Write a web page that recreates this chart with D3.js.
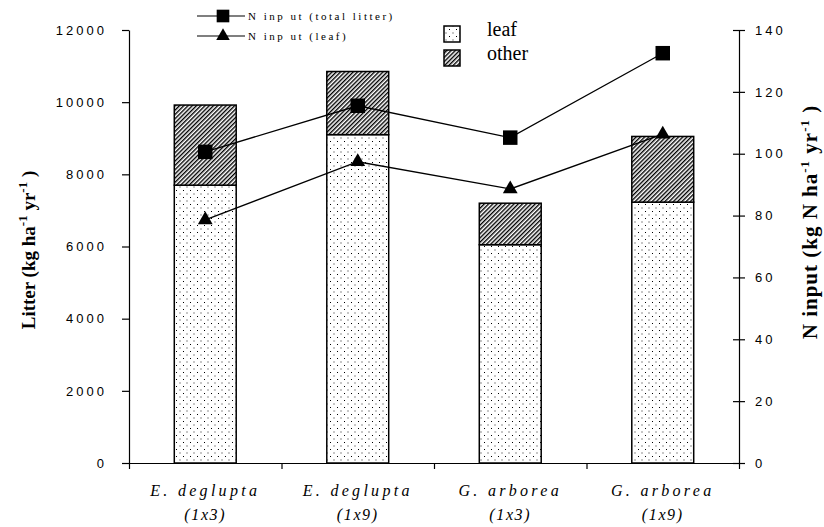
<!DOCTYPE html>
<html>
<head>
<meta charset="utf-8">
<script src="https://cdn.jsdelivr.net/npm/d3@7"></script>
<style>
  html, body { margin: 0; padding: 0; background: #fff; }
  svg { display: block; }
</style>
</head>
<body>
<svg id="chart" width="824" height="527"></svg>
<script>
// ---- data ----
const species = ["E. deglupta", "E. deglupta", "G. arborea", "G. arborea"];
const spacing = ["(1x3)", "(1x9)", "(1x3)", "(1x9)"];
const leafLitter = [7700, 9100, 6050, 7230];
const otherLitter = [2220, 1750, 1150, 1820];
const nInputTotal = [100.6, 115.5, 105.2, 132.5];
const nInputLeaf = [78.6, 97.4, 88.6, 106.3];
const litterTicks = [0, 2000, 4000, 6000, 8000, 10000, 12000];
const nTicks = [0, 20, 40, 60, 80, 100, 120, 140];

const svg = d3.select("#chart");
const mLeft = 129, mRight = 739, mTop = 30, mBottom = 463;
const idx = d3.range(species.length);

const x = d3.scaleBand().domain(idx).range([mLeft, mRight]).padding(0);
const yL = d3.scaleLinear().domain([0, 12000]).range([mBottom, mTop]);
const yR = d3.scaleLinear().domain([0, 140]).range([mBottom, mTop]);

// ---- patterns ----
const defs = svg.append("defs");
const dots = defs.append("pattern").attr("id", "dots").attr("patternUnits", "userSpaceOnUse")
  .attr("width", 7).attr("height", 7);
dots.append("rect").attr("width", 7).attr("height", 7).attr("fill", "#fff");
dots.append("rect").attr("x", 1).attr("y", 1).attr("width", 1).attr("height", 1).attr("fill", "#000");
dots.append("rect").attr("x", 4.5).attr("y", 4.5).attr("width", 1).attr("height", 1).attr("fill", "#222");

const hatch = defs.append("pattern").attr("id", "hatch").attr("patternUnits", "userSpaceOnUse")
  .attr("width", 3).attr("height", 3).attr("patternTransform", "rotate(45)");
hatch.append("rect").attr("width", 3).attr("height", 3).attr("fill", "#fff");
hatch.append("rect").attr("x", 0).attr("y", 0).attr("width", 1.4).attr("height", 3).attr("fill", "#000");

// ---- bars ----
const bw = x.bandwidth() * 0.406;
const bx = i => x(i) + x.bandwidth() / 2 - bw / 2;
const barG = svg.append("g");
barG.selectAll("rect.leaf").data(idx).join("rect").attr("class", "leaf")
  .attr("x", bx).attr("width", bw)
  .attr("y", i => yL(leafLitter[i])).attr("height", i => yL(0) - yL(leafLitter[i]))
  .attr("fill", "url(#dots)").attr("stroke", "#000").attr("stroke-width", 1.5);
barG.selectAll("rect.other").data(idx).join("rect").attr("class", "other")
  .attr("x", bx).attr("width", bw)
  .attr("y", i => yL(leafLitter[i] + otherLitter[i]))
  .attr("height", i => yL(leafLitter[i]) - yL(leafLitter[i] + otherLitter[i]))
  .attr("fill", "url(#hatch)").attr("stroke", "#000").attr("stroke-width", 1.5);

// ---- axes ----
const axisFont = "Arial, 'Liberation Sans', sans-serif";
const gL = svg.append("g").attr("transform", `translate(${mLeft},0)`)
  .call(d3.axisLeft(yL).tickValues(litterTicks).tickSize(7).tickPadding(15).tickSizeOuter(0).tickFormat(d3.format("d")));
gL.selectAll("text").attr("font-family", axisFont).attr("font-size", 13).attr("letter-spacing", "3px").attr("fill", "#000");

const gR = svg.append("g").attr("transform", `translate(${mRight},0)`)
  .call(d3.axisRight(yR).tickValues(nTicks).tickSize(6).tickPadding(10).tickSizeOuter(0));
gR.selectAll(".tick line").attr("x1", -6).attr("x2", 6);
gR.selectAll("text").attr("font-family", axisFont).attr("font-size", 13).attr("letter-spacing", "3px").attr("fill", "#000");

const gB = svg.append("g").attr("transform", `translate(0,${mBottom})`)
  .call(d3.axisBottom(d3.scaleLinear().domain([0, 4]).range([mLeft, mRight]))
    .tickValues([0, 1, 2, 3, 4]).tickSize(6).tickSizeOuter(0).tickFormat(""));
[gL, gR, gB].forEach(g => g.selectAll("path, line").attr("stroke", "#000").attr("stroke-width", 1.2));

// category labels
const catG = svg.append("g").attr("font-family", "'Liberation Serif', 'Times New Roman', serif")
  .attr("font-style", "italic").attr("font-size", 16).attr("text-anchor", "middle");
catG.selectAll("text.sp").data(idx).join("text").attr("class", "sp")
  .attr("x", i => x(i) + x.bandwidth() / 2).attr("y", 496).attr("letter-spacing", "3.3px").text(i => species[i]);
catG.selectAll("text.spc").data(idx).join("text").attr("class", "spc")
  .attr("x", i => x(i) + x.bandwidth() / 2).attr("y", 520).attr("letter-spacing", "1.6px").text(i => spacing[i]);

// axis titles
const titleFont = "'Liberation Serif', 'Times New Roman', serif";
function title(sel, main) {
  sel.append("tspan").text(main);
  sel.append("tspan").attr("dy", -8).attr("font-size", 13).text("-1");
  sel.append("tspan").attr("dy", 8).text(" yr");
  sel.append("tspan").attr("dy", -8).attr("font-size", 13).text("-1");
  sel.append("tspan").attr("dy", 8).text(" )");
}
const tL = svg.append("text").attr("transform", "translate(35,250) rotate(-90)")
  .attr("text-anchor", "middle").attr("font-family", titleFont).attr("font-weight", "bold").attr("font-size", 19);
title(tL, "Litter (kg ha");

const tR = svg.append("text").attr("transform", "translate(817,222) rotate(-90)")
  .attr("text-anchor", "middle").attr("font-family", titleFont).attr("font-weight", "bold").attr("font-size", 21)
  .attr("letter-spacing", "1px");
title(tR, "N input (kg N ha");

// ---- lines ----
const cx = i => x(i) + x.bandwidth() / 2;
const line = d3.line().x(d => cx(d.i)).y(d => yR(d.v));
const totPts = idx.map(i => ({ i, v: nInputTotal[i] }));
const leafPts = idx.map(i => ({ i, v: nInputLeaf[i] }));
svg.append("path").datum(totPts).attr("d", line).attr("fill", "none").attr("stroke", "#000").attr("stroke-width", 1.3);
svg.append("path").datum(leafPts).attr("d", line).attr("fill", "none").attr("stroke", "#000").attr("stroke-width", 1.3);

const sq = d3.symbol().type(d3.symbolSquare).size(210);
const tri = d3.symbol().type(d3.symbolTriangle).size(95);
svg.selectAll("path.sq").data(totPts).join("path").attr("class", "sq")
  .attr("transform", d => `translate(${cx(d.i)},${yR(d.v)})`).attr("d", sq).attr("fill", "#000");
svg.selectAll("path.tri").data(leafPts).join("path").attr("class", "tri")
  .attr("transform", d => `translate(${cx(d.i)},${yR(d.v)})`).attr("d", tri).attr("fill", "#000");

// ---- legends ----
const legFont = "'Liberation Serif', 'Times New Roman', serif";
const lg = svg.append("g");
const lineLeg = [
  { y: 16, kind: "sq", label: "N inp ut (total litter)" },
  { y: 36, kind: "tri", label: "N inp ut (leaf)" }
];
lineLeg.forEach(d => {
  lg.append("line").attr("x1", 197).attr("x2", 245).attr("y1", d.y).attr("y2", d.y).attr("stroke", "#000").attr("stroke-width", 1.2);
  lg.append("path").attr("transform", `translate(223,${d.y})`)
    .attr("d", d.kind === "sq" ? d3.symbol().type(d3.symbolSquare).size(160)() : d3.symbol().type(d3.symbolTriangle).size(80)())
    .attr("fill", "#000");
  lg.append("text").attr("x", 248).attr("y", d.y + 4).attr("font-family", legFont).attr("font-size", 11)
    .attr("letter-spacing", "2.5px").text(d.label);
});
const boxLeg = [
  { y: 26, fill: "url(#dots)", label: "leaf" },
  { y: 50, fill: "url(#hatch)", label: "other" }
];
boxLeg.forEach(d => {
  lg.append("rect").attr("x", 444).attr("y", d.y).attr("width", 16).attr("height", 16)
    .attr("fill", d.fill).attr("stroke", "#000").attr("stroke-width", 1.5);
  lg.append("text").attr("x", 487).attr("y", d.y + 10).attr("font-family", legFont).attr("font-size", 20).text(d.label);
});
</script>
</body>
</html>
